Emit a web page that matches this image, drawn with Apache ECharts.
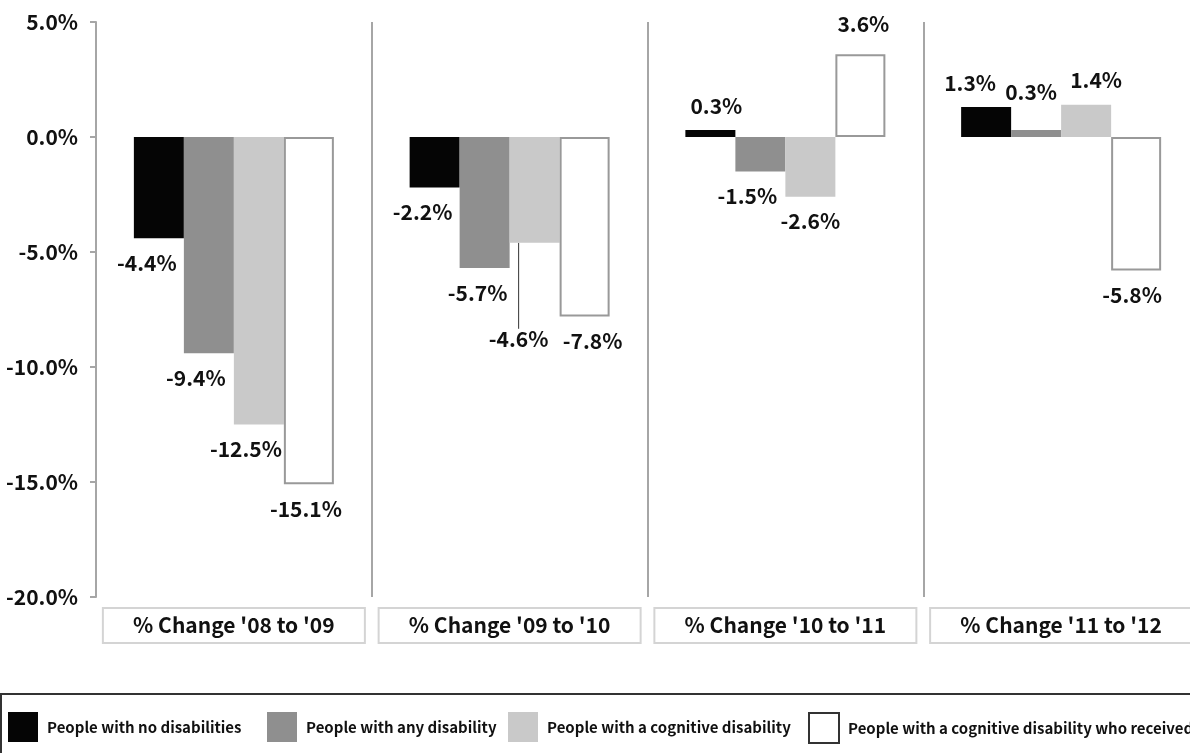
<!DOCTYPE html>
<html>
<head>
<meta charset="utf-8">
<title>% change by disability</title>
<script src="https://cdn.jsdelivr.net/npm/echarts@6/dist/echarts.min.js"></script>
<style>
  html, body { margin: 0; padding: 0; background: #fff; }
  #chart { width: 1190px; height: 753px; }
</style>
</head>
<body>
<div id="chart"></div>
<script>
  // categories + series values (percent change)
  const categories = ["% Change '08 to '09", "% Change '09 to '10", "% Change '10 to '11", "% Change '11 to '12"];
  const seriesNames = [
    'People with no disabilities',
    'People with any disability',
    'People with a cognitive disability',
    'People with a cognitive disability who received'
  ];
  const noDisability = [-4.4, -2.2, 0.3, 1.3];
  const anyDisability = [-9.4, -5.7, -1.5, 0.3];
  const cognitive = [-12.5, -4.6, -2.6, 1.4];
  const cognitiveReceived = [-15.1, -7.8, 3.6, -5.8];
  const yMin = -20, yMax = 5, yStep = 5;

  // Noto Sans CJK latin glyphs are Source Sans, closest thing to Myriad here
  const font = "'Noto Sans CJK SC', 'Liberation Sans', sans-serif";

  // hand-placed labels in the original, nudged the same way
  const labelNudge = {
    '0:0': [-12, 0], '1:0': [-13, 0], '2:0': [-13, 0], '3:0': [-3, 0],
    '0:1': [-12, 0], '1:1': [-7, 0], '2:1': [-16, 72], '3:1': [8, 0],
    '0:2': [6, 0], '1:2': [-13, 0], '2:2': [0, 0], '3:2': [3, -6],
    '0:3': [-16, 0], '1:3': [-5, -14], '2:3': [10, 0], '3:3': [-4, 0]
  };
  const leaderLines = ['2:1'];

  const chart = echarts.init(document.getElementById('chart'));

  function makeBar(idx, values, color, border) {
    return {
      name: seriesNames[idx],
      type: 'bar',
      barWidth: 50,
      barGap: '0%',
      itemStyle: border
        ? { color: color, borderColor: border, borderWidth: 2 }
        : { color: color },
      data: values.map(function (v, i) {
        return {
          value: v,
          label: { position: v < 0 ? 'bottom' : 'top' },
          labelLine: { show: leaderLines.indexOf(idx + ':' + i) >= 0 }
        };
      }),
      label: {
        show: true,
        distance: 14,
        formatter: function (p) { return p.value.toFixed(1) + '%'; },
        fontFamily: font,
        fontWeight: 'bold',
        fontSize: 21,
        color: '#111'
      },
      labelLine: {
        show: false,
        lineStyle: { color: '#333', width: 1 }
      }
    };
  }

  const legendX = [8, 267, 508, 808];

  chart.setOption({
    animation: false,
    grid: { left: 96, top: 22, width: 1103, height: 575, outerBoundsMode: 'none' },
    legend: seriesNames.map(function (n, i) {
      return {
        left: legendX[i],
        top: 712,
        padding: 0,
        icon: 'rect',
        itemWidth: 30,
        itemHeight: 30,
        selectedMode: false,
        data: [i === 3
          ? { name: n, itemStyle: { color: '#fff', borderColor: '#333', borderWidth: 2 } }
          : { name: n }],
        textStyle: {
          fontFamily: font,
          fontWeight: 'bold',
          fontSize: 15,
          color: '#111',
          padding: [0, 0, 0, 4]
        }
      };
    }),
    graphic: [{
      type: 'rect',
      z: -1,
      shape: { x: 1, y: 694, width: 1300, height: 120 },
      style: { fill: 'none', stroke: '#333', lineWidth: 2 }
    }],
    xAxis: {
      type: 'category',
      data: categories,
      axisLine: { show: false },
      axisTick: { show: false },
      splitLine: { show: true, interval: 0, lineStyle: { color: '#a6a6a6', width: 2 } },
      axisLabel: {
        interval: 0,
        margin: 11,
        width: 262,
        height: 35,
        lineHeight: 35,
        align: 'center',
        borderColor: '#d4d4d4',
        borderWidth: 2,
        fontFamily: font,
        fontWeight: 'bold',
        fontSize: 21,
        color: '#111'
      }
    },
    yAxis: {
      type: 'value',
      min: yMin,
      max: yMax,
      interval: yStep,
      axisLine: { show: true, lineStyle: { color: '#a6a6a6', width: 2 } },
      axisTick: { show: true, length: 6, lineStyle: { color: '#a6a6a6', width: 2 } },
      splitLine: { show: false },
      axisLabel: {
        margin: 18,
        formatter: function (v) { return v.toFixed(1) + '%'; },
        fontFamily: font,
        fontWeight: 'bold',
        fontSize: 21,
        color: '#111'
      }
    },
    labelLayout: function (p) {
      const n = labelNudge[p.seriesIndex + ':' + p.dataIndex] || [0, 0];
      return { dx: n[0], dy: n[1] };
    },
    series: [
      makeBar(0, noDisability, '#050505'),
      makeBar(1, anyDisability, '#8f8f8f'),
      makeBar(2, cognitive, '#c9c9c9'),
      makeBar(3, cognitiveReceived, '#ffffff', '#999999')
    ]
  });
</script>
</body>
</html>
